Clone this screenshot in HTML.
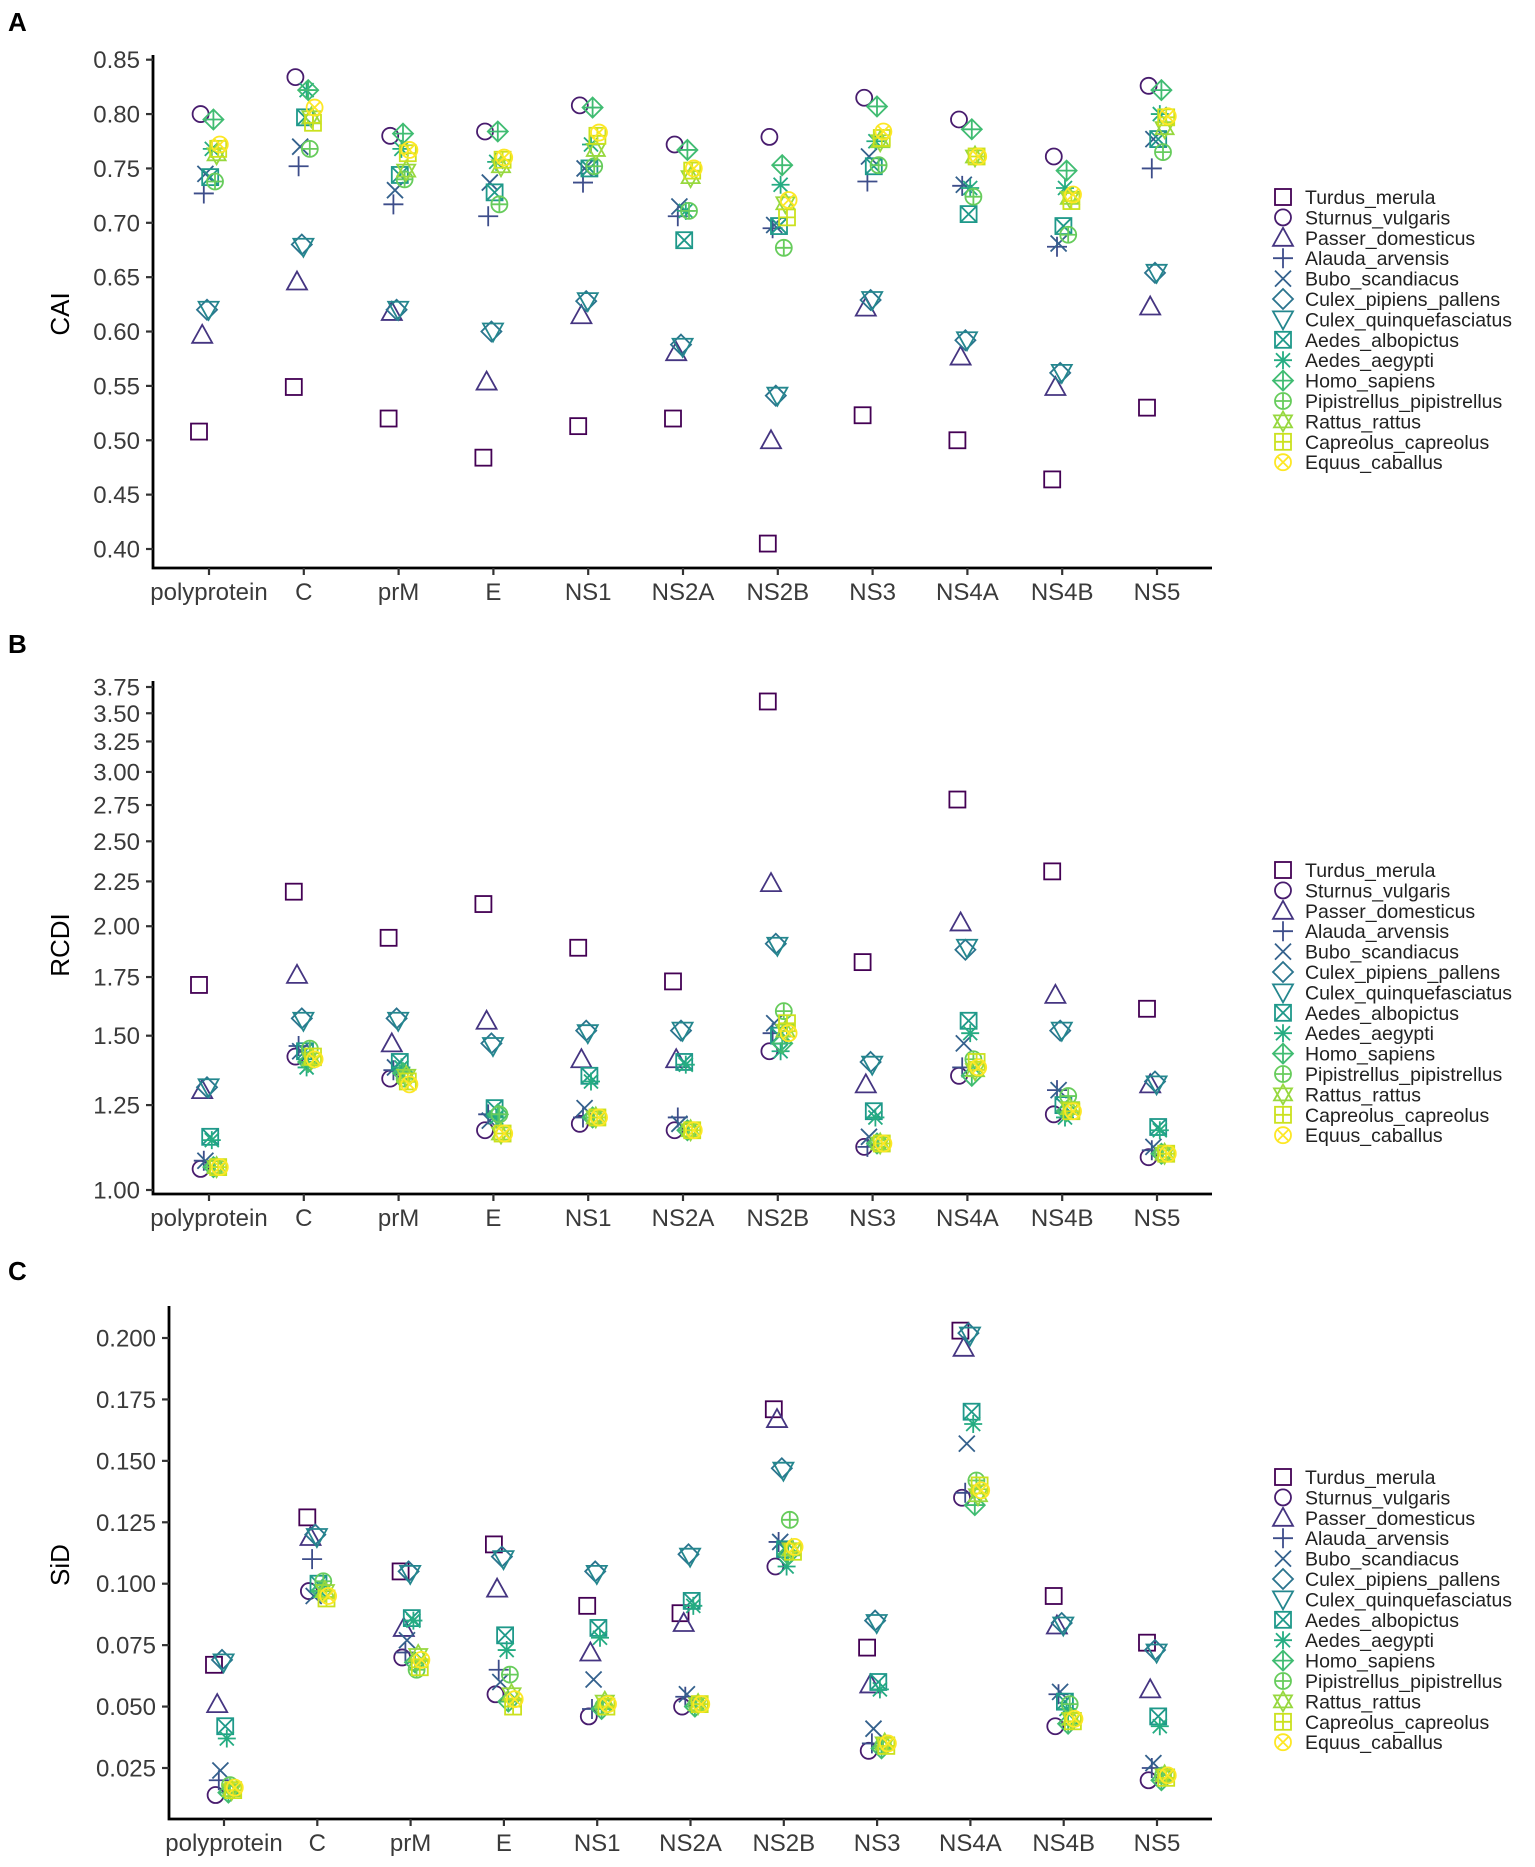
<!DOCTYPE html>
<html><head><meta charset="utf-8"><style>
html,body{margin:0;padding:0;background:#fff;}
svg{display:block;font-family:"Liberation Sans",Arial,sans-serif;}
</style></head><body>
<svg id="fig" width="1535" height="1867" viewBox="0 0 1535 1867" xmlns="http://www.w3.org/2000/svg"></svg>
<script>
const categories = ["polyprotein","C","prM","E","NS1","NS2A","NS2B","NS3","NS4A","NS4B","NS5"];
const species = ["Turdus_merula","Sturnus_vulgaris","Passer_domesticus","Alauda_arvensis","Bubo_scandiacus","Culex_pipiens_pallens","Culex_quinquefasciatus","Aedes_albopictus","Aedes_aegypti","Homo_sapiens","Pipistrellus_pipistrellus","Rattus_rattus","Capreolus_capreolus","Equus_caballus"];
const colors = ["#440154","#481C6E","#453581","#3D4D8A","#34618D","#2B748E","#24878E","#1F998A","#25AC82","#40BC72","#67CC5C","#97D83E","#CBE11E","#FDE725"];

// Panel A: CAI
const caiTurdus  = [0.508,0.549,0.520,0.484,0.513,0.520,0.405,0.523,0.500,0.464,0.530];
const caiSturnus = [0.800,0.834,0.780,0.784,0.808,0.772,0.779,0.815,0.795,0.761,0.826];
const caiPasser  = [0.597,0.646,0.618,0.554,0.615,0.581,0.500,0.622,0.577,0.549,0.623];
const caiAlauda  = [0.727,0.752,0.717,0.706,0.737,0.706,0.695,0.738,0.734,0.678,0.750];
const caiBubo    = [0.745,0.770,0.730,0.737,0.750,0.715,0.698,0.761,0.735,0.681,0.777];
const caiCpp     = [0.620,0.680,0.620,0.600,0.628,0.588,0.541,0.629,0.592,0.562,0.654];
const caiCq      = [0.620,0.678,0.620,0.600,0.628,0.586,0.541,0.629,0.592,0.562,0.654];
const caiAalb    = [0.742,0.797,0.744,0.728,0.750,0.684,0.697,0.752,0.708,0.697,0.777];
const caiAaeg    = [0.768,0.822,0.768,0.756,0.772,0.711,0.735,0.775,0.732,0.732,0.800];
const caiHomo    = [0.795,0.822,0.782,0.784,0.806,0.767,0.753,0.807,0.786,0.748,0.822];
const caiPip     = [0.738,0.768,0.740,0.717,0.752,0.711,0.677,0.753,0.724,0.689,0.765];
const caiRattus  = [0.763,0.797,0.748,0.752,0.767,0.742,0.718,0.775,0.761,0.723,0.787];
const caiCap     = [0.768,0.792,0.764,0.758,0.780,0.748,0.705,0.778,0.761,0.720,0.797];
const caiEqu     = [0.772,0.806,0.767,0.760,0.783,0.750,0.721,0.784,0.761,0.726,0.798];

// Panel B: RCDI
const rcdiTurdus  = [1.714,2.19,1.94,2.12,1.89,1.73,3.61,1.82,2.79,2.31,1.61];
const rcdiSturnus = [1.057,1.42,1.34,1.17,1.19,1.17,1.44,1.12,1.35,1.22,1.09];
const rcdiPasser  = [1.30,1.76,1.47,1.56,1.41,1.41,2.24,1.32,2.02,1.67,1.32];
const rcdiAlauda  = [1.08,1.46,1.37,1.22,1.21,1.21,1.51,1.12,1.38,1.30,1.11];
const rcdiBubo    = [1.08,1.44,1.38,1.20,1.24,1.19,1.55,1.15,1.47,1.30,1.12];
const rcdiCpp     = [1.31,1.57,1.57,1.47,1.52,1.52,1.91,1.40,1.88,1.52,1.33];
const rcdiCq      = [1.31,1.56,1.56,1.46,1.51,1.52,1.90,1.39,1.89,1.52,1.32];
const rcdiAalb    = [1.15,1.44,1.40,1.24,1.35,1.40,1.50,1.23,1.56,1.25,1.18];
const rcdiAaeg    = [1.14,1.38,1.38,1.21,1.33,1.39,1.44,1.21,1.51,1.21,1.17];
const rcdiHomo    = [1.062,1.40,1.36,1.22,1.21,1.17,1.47,1.13,1.35,1.23,1.10];
const rcdiPip     = [1.062,1.45,1.34,1.22,1.21,1.17,1.60,1.13,1.41,1.28,1.10];
const rcdiRattus  = [1.062,1.41,1.35,1.16,1.21,1.17,1.52,1.13,1.37,1.24,1.10];
const rcdiCap     = [1.062,1.42,1.33,1.16,1.21,1.17,1.55,1.13,1.40,1.23,1.10];
const rcdiEqu     = [1.062,1.41,1.32,1.16,1.21,1.17,1.51,1.13,1.38,1.23,1.10];

// Panel C: SiD
const sidTurdus  = [0.067,0.127,0.105,0.116,0.091,0.088,0.171,0.074,0.203,0.095,0.076];
const sidSturnus = [0.014,0.097,0.070,0.055,0.046,0.050,0.107,0.032,0.135,0.042,0.020];
const sidPasser  = [0.051,0.119,0.082,0.098,0.072,0.084,0.167,0.059,0.196,0.083,0.057];
const sidAlauda  = [0.020,0.110,0.072,0.065,0.049,0.054,0.117,0.035,0.137,0.055,0.025];
const sidBubo    = [0.024,0.095,0.077,0.060,0.061,0.055,0.117,0.041,0.157,0.056,0.027];
const sidCpp     = [0.069,0.120,0.105,0.111,0.105,0.112,0.147,0.085,0.202,0.084,0.073];
const sidCq      = [0.068,0.119,0.104,0.110,0.104,0.111,0.146,0.084,0.201,0.083,0.072];
const sidAalb    = [0.042,0.100,0.086,0.079,0.082,0.093,0.114,0.060,0.170,0.052,0.046];
const sidAaeg    = [0.037,0.097,0.085,0.073,0.078,0.091,0.107,0.057,0.165,0.049,0.042];
const sidHomo    = [0.015,0.097,0.068,0.052,0.049,0.050,0.112,0.033,0.132,0.043,0.020];
const sidPip     = [0.018,0.101,0.065,0.063,0.050,0.051,0.126,0.034,0.142,0.051,0.022];
const sidRattus  = [0.016,0.097,0.071,0.055,0.052,0.051,0.114,0.035,0.136,0.045,0.022];
const sidCap     = [0.016,0.094,0.066,0.050,0.050,0.051,0.113,0.034,0.140,0.044,0.021];
const sidEqu     = [0.017,0.095,0.069,0.053,0.051,0.051,0.115,0.035,0.138,0.045,0.022];

const caiTicks = [0.40,0.45,0.50,0.55,0.60,0.65,0.70,0.75,0.80,0.85];
const rcdiTicks = [1.00,1.25,1.50,1.75,2.00,2.25,2.50,2.75,3.00,3.25,3.50,3.75];
const sidTicks = [0.025,0.050,0.075,0.100,0.125,0.150,0.175,0.200];

const caiSeries = [caiTurdus,caiSturnus,caiPasser,caiAlauda,caiBubo,caiCpp,caiCq,caiAalb,caiAaeg,caiHomo,caiPip,caiRattus,caiCap,caiEqu];
const rcdiSeries = [rcdiTurdus,rcdiSturnus,rcdiPasser,rcdiAlauda,rcdiBubo,rcdiCpp,rcdiCq,rcdiAalb,rcdiAaeg,rcdiHomo,rcdiPip,rcdiRattus,rcdiCap,rcdiEqu];
const sidSeries = [sidTurdus,sidSturnus,sidPasser,sidAlauda,sidBubo,sidCpp,sidCq,sidAalb,sidAaeg,sidHomo,sidPip,sidRattus,sidCap,sidEqu];

const NS = "http://www.w3.org/2000/svg";
const svg = document.getElementById("fig");
function mk(tag, attrs, parent){
  const e = document.createElementNS(NS, tag);
  for (const k in attrs) e.setAttribute(k, attrs[k]);
  (parent||svg).appendChild(e);
  return e;
}

function marker(g, shape, cx, cy, col){
  const r = 9, st = {fill:"none", stroke:col, "stroke-width":1.8};
  const P = (d)=>mk("path", Object.assign({d:d}, st), g);
  const sq = ()=>mk("rect", Object.assign({x:cx-r+1,y:cy-r+1,width:2*r-2,height:2*r-2}, st), g);
  const ci = ()=>mk("circle", Object.assign({cx:cx,cy:cy,r:r-1}, st), g);
  const diamond = ()=>P(`M${cx} ${cy-r-1}L${cx+r+1} ${cy}L${cx} ${cy+r+1}L${cx-r-1} ${cy}Z`);
  const triU = ()=>P(`M${cx} ${cy-r-1}L${cx+r+1} ${cy+r-1}L${cx-r-1} ${cy+r-1}Z`);
  const triD = ()=>P(`M${cx} ${cy+r+1}L${cx+r+1} ${cy-r+1}L${cx-r-1} ${cy-r+1}Z`);
  const plus = (s)=>P(`M${cx-s} ${cy}H${cx+s}M${cx} ${cy-s}V${cy+s}`);
  const cross = (s)=>P(`M${cx-s} ${cy-s}L${cx+s} ${cy+s}M${cx+s} ${cy-s}L${cx-s} ${cy+s}`);
  switch(shape){
    case 0: sq(); break;
    case 1: ci(); break;
    case 2: triU(); break;
    case 3: plus(r+1); break;
    case 4: cross(r-1); break;
    case 5: diamond(); break;
    case 6: triD(); break;
    case 7: sq(); cross(r-1); break;
    case 8: plus(r); cross(r-2); break;
    case 9: diamond(); plus(r+1); break;
    case 10: ci(); plus(r-1); break;
    case 11: P(`M${cx} ${cy-r-1}L${cx+r} ${cy+r-3}L${cx-r} ${cy+r-3}Z`); P(`M${cx} ${cy+r+1}L${cx+r} ${cy-r+3}L${cx-r} ${cy-r+3}Z`); break;
    case 12: sq(); plus(r-1); break;
    case 13: ci(); cross(r-3); break;
  }
}

function panel(cfg){
  const g = mk("g", {});
  
  
  const lab = mk("text", {x:8, y:cfg.letterY, "font-size":26, "font-weight":"bold", fill:"#000"}, g);
  lab.textContent = cfg.letter;
  
  
  const ax = mk("path", {d:`M${cfg.axX} ${cfg.axTop}V${cfg.axY}H${cfg.axEnd}`, fill:"none", stroke:"#000", "stroke-width":2.8}, g);
  
  
  cfg.ticks.forEach(t=>{
    const y = cfg.sy(t);
    mk("path", {d:`M${cfg.axX-7} ${y}H${cfg.axX}`, stroke:"#333", "stroke-width":2.2}, g);
    const tx = mk("text", {x:cfg.axX-13, y:y+8.5, "font-size":24, "text-anchor":"end", fill:"#3a3a3a"}, g);
    tx.textContent = t.toFixed(cfg.dec);
    
    
  });
  categories.forEach((c,i)=>{
    const x = cfg.sx(i);
    mk("path", {d:`M${x} ${cfg.axY}V${cfg.axY+7}`, stroke:"#333", "stroke-width":2.2}, g);
    const tx = mk("text", {x:x, y:cfg.axY+32, "font-size":24, "text-anchor":"middle", fill:"#3a3a3a"}, g);
    tx.textContent = c;
    
    
  });
  const yt = mk("text", {x:0, y:0, "font-size":26, "text-anchor":"middle", fill:"#000", transform:`translate(${cfg.titleX},${cfg.titleY}) rotate(-90)`}, g);
  yt.textContent = cfg.title;
  
  
  cfg.series.forEach((arr, s)=>{
    const sg = mk("g", {}, g);
    
    
    arr.forEach((v,i)=>{
      const px = cfg.sx(i) - 10 + s*1.6;
      marker(sg, s, px, cfg.sy(v), colors[s]);
    });
  });
  const lg = mk("g", {}, g);
  
  
  species.forEach((sp,s)=>{
    const y = cfg.legY + s*20.4;
    const eg = mk("g", {}, lg);
    
    
    marker(eg, s, 1283, y, colors[s]);
    const t = mk("text", {x:1305, y:y+7, "font-size":19.5, fill:"#222"}, eg);
    t.textContent = sp;
  });
}

panel({name:"cai-panel", letter:"A", letterY:31, title:"CAI", titleX:69, titleY:314,
  axX:153, axTop:55, axY:568, axEnd:1212, ticks:caiTicks, dec:2, series:caiSeries,
  sx:i=>209+i*94.8, sy:v=>549-(v-0.40)/0.45*(549-59.7), legY:197});
panel({name:"rcdi-panel", letter:"B", letterY:653, title:"RCDI", titleX:69, titleY:945,
  axX:153, axTop:681, axY:1194, axEnd:1212, ticks:rcdiTicks, dec:2, series:rcdiSeries,
  sx:i=>209+i*94.8, sy:v=>1190-Math.log(v)/Math.log(3.75)*(1190-687), legY:870});
panel({name:"sid-panel", letter:"C", letterY:1280, title:"SiD", titleX:69, titleY:1565,
  axX:169, axTop:1306, axY:1819, axEnd:1212, ticks:sidTicks, dec:3, series:sidSeries,
  sx:i=>224+i*93.3, sy:v=>1768-(v-0.025)/0.175*(1768-1338), legY:1477});
</script>
</body></html>
